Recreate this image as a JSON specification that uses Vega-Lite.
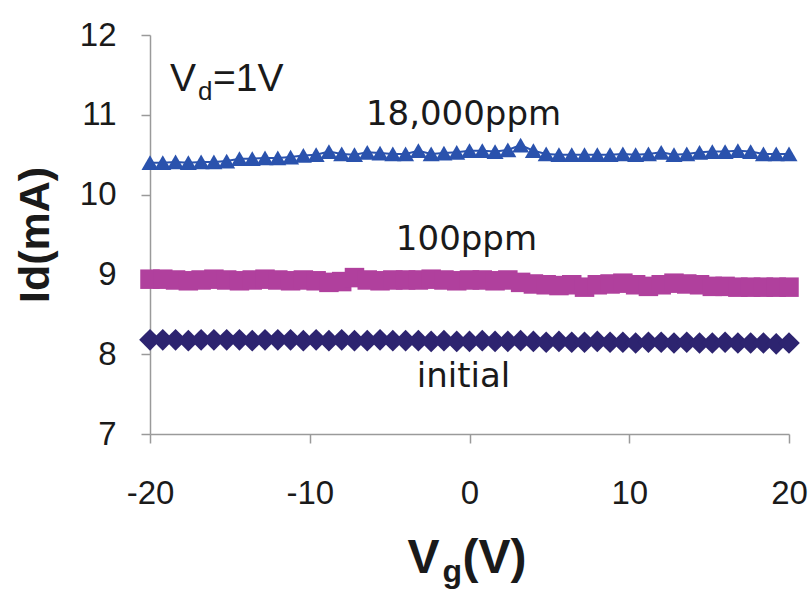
{
  "$schema": "https://vega.github.io/schema/vega-lite/v6.json",
  "width": 639,
  "height": 399,
  "autosize": {"type": "none"},
  "padding": {"left": 150, "top": 35, "right": 23, "bottom": 155},
  "background": "#ffffff",
  "config": {
    "view": {"stroke": null},
    "axis": {
      "grid": false,
      "domainColor": "#9a9a9a",
      "domainWidth": 1.5,
      "tickColor": "#9a9a9a",
      "tickWidth": 1.5,
      "tickSize": 9,
      "labelFont": "Liberation Sans",
      "labelFontSize": 33,
      "labelColor": "#1a1a1a"
    }
  },
  "datasets": {
    "curves": [
      {"Vg": -20, "s18000": 10.40, "s100": 8.94, "initial": 8.18},
      {"Vg": -19.2, "s18000": 10.40, "s100": 8.94, "initial": 8.18},
      {"Vg": -18.4, "s18000": 10.41, "s100": 8.93, "initial": 8.18},
      {"Vg": -17.6, "s18000": 10.40, "s100": 8.92, "initial": 8.17},
      {"Vg": -16.8, "s18000": 10.41, "s100": 8.93, "initial": 8.18},
      {"Vg": -16, "s18000": 10.41, "s100": 8.94, "initial": 8.18},
      {"Vg": -15.2, "s18000": 10.42, "s100": 8.93, "initial": 8.18},
      {"Vg": -14.4, "s18000": 10.45, "s100": 8.92, "initial": 8.18},
      {"Vg": -13.6, "s18000": 10.45, "s100": 8.93, "initial": 8.17},
      {"Vg": -12.8, "s18000": 10.46, "s100": 8.94, "initial": 8.18},
      {"Vg": -12, "s18000": 10.46, "s100": 8.93, "initial": 8.18},
      {"Vg": -11.2, "s18000": 10.47, "s100": 8.92, "initial": 8.18},
      {"Vg": -10.4, "s18000": 10.49, "s100": 8.93, "initial": 8.17},
      {"Vg": -9.6, "s18000": 10.50, "s100": 8.92, "initial": 8.18},
      {"Vg": -8.8, "s18000": 10.54, "s100": 8.90, "initial": 8.17},
      {"Vg": -8, "s18000": 10.51, "s100": 8.91, "initial": 8.18},
      {"Vg": -7.2, "s18000": 10.50, "s100": 8.96, "initial": 8.17},
      {"Vg": -6.4, "s18000": 10.53, "s100": 8.93, "initial": 8.17},
      {"Vg": -5.6, "s18000": 10.52, "s100": 8.92, "initial": 8.18},
      {"Vg": -4.8, "s18000": 10.51, "s100": 8.93, "initial": 8.17},
      {"Vg": -4, "s18000": 10.51, "s100": 8.93, "initial": 8.17},
      {"Vg": -3.2, "s18000": 10.55, "s100": 8.93, "initial": 8.17},
      {"Vg": -2.4, "s18000": 10.51, "s100": 8.94, "initial": 8.16},
      {"Vg": -1.6, "s18000": 10.52, "s100": 8.93, "initial": 8.17},
      {"Vg": -0.8, "s18000": 10.53, "s100": 8.92, "initial": 8.16},
      {"Vg": 0, "s18000": 10.55, "s100": 8.93, "initial": 8.16},
      {"Vg": 0.8, "s18000": 10.55, "s100": 8.93, "initial": 8.17},
      {"Vg": 1.6, "s18000": 10.54, "s100": 8.92, "initial": 8.16},
      {"Vg": 2.4, "s18000": 10.56, "s100": 8.93, "initial": 8.16},
      {"Vg": 3.2, "s18000": 10.62, "s100": 8.90, "initial": 8.17},
      {"Vg": 4, "s18000": 10.55, "s100": 8.88, "initial": 8.16},
      {"Vg": 4.8, "s18000": 10.51, "s100": 8.87, "initial": 8.15},
      {"Vg": 5.6, "s18000": 10.50, "s100": 8.86, "initial": 8.16},
      {"Vg": 6.4, "s18000": 10.50, "s100": 8.87, "initial": 8.15},
      {"Vg": 7.2, "s18000": 10.50, "s100": 8.84, "initial": 8.15},
      {"Vg": 8, "s18000": 10.50, "s100": 8.87, "initial": 8.16},
      {"Vg": 8.8, "s18000": 10.50, "s100": 8.88, "initial": 8.15},
      {"Vg": 9.6, "s18000": 10.51, "s100": 8.89, "initial": 8.15},
      {"Vg": 10.4, "s18000": 10.50, "s100": 8.87, "initial": 8.14},
      {"Vg": 11.2, "s18000": 10.51, "s100": 8.85, "initial": 8.15},
      {"Vg": 12, "s18000": 10.53, "s100": 8.87, "initial": 8.15},
      {"Vg": 12.8, "s18000": 10.50, "s100": 8.89, "initial": 8.14},
      {"Vg": 13.6, "s18000": 10.51, "s100": 8.88, "initial": 8.15},
      {"Vg": 14.4, "s18000": 10.53, "s100": 8.87, "initial": 8.14},
      {"Vg": 15.2, "s18000": 10.54, "s100": 8.85, "initial": 8.14},
      {"Vg": 16, "s18000": 10.54, "s100": 8.85, "initial": 8.15},
      {"Vg": 16.8, "s18000": 10.55, "s100": 8.84, "initial": 8.14},
      {"Vg": 17.6, "s18000": 10.54, "s100": 8.84, "initial": 8.14},
      {"Vg": 18.4, "s18000": 10.51, "s100": 8.84, "initial": 8.14},
      {"Vg": 19.2, "s18000": 10.51, "s100": 8.84, "initial": 8.13},
      {"Vg": 20, "s18000": 10.51, "s100": 8.84, "initial": 8.14}
    ],
    "labels": [
      {"Vg": -0.375, "Id": 10.872, "text": "18,000ppm"},
      {"Vg": -0.19, "Id": 9.306, "text": "100ppm"},
      {"Vg": -0.375, "Id": 7.589, "text": "initial"}
    ],
    "vdMain": [
      {"Vg": -18.75, "Id": 11.30, "text": "V"},
      {"Vg": -16.06, "Id": 11.30, "text": "=1V"}
    ],
    "vdSub": [
      {"Vg": -17.0, "Id": 11.185, "text": "d"}
    ],
    "xTitleMain": [
      {"Vg": -3.875, "Id": 5.26, "text": "V"},
      {"Vg": -0.44, "Id": 5.26, "text": "(V)"}
    ],
    "xTitleSub": [
      {"Vg": -1.69, "Id": 5.145, "text": "g"}
    ]
  },
  "layer": [
    {
      "data": {"name": "curves"},
      "transform": [{"fold": ["s18000", "s100", "initial"], "as": ["series", "Id"]}],
      "mark": {"type": "line", "strokeWidth": 2},
      "encoding": {
        "x": {"field": "Vg", "type": "quantitative",
              "scale": {"domain": [-20, 20], "nice": false, "zero": false},
              "axis": {"values": [-20, -10, 0, 10, 20], "title": null, "labelPadding": 34, "labelFlush": false,
                       "labelExpr": "replace(format(datum.value, 'd'), '\u2212', '-')"}},
        "y": {"field": "Id", "type": "quantitative",
              "scale": {"domain": [7, 12], "nice": false, "zero": false},
              "axis": {"values": [7, 8, 9, 10, 11, 12], "title": "Id(mA)", "labelPadding": 25,
                       "labelExpr": "format(datum.value, 'd')",
                       "titleFont": "Liberation Sans", "titleFontWeight": "bold", "titleFontSize": 43,
                       "titleColor": "#1a1a1a", "titlePadding": 22}},
        "color": {"field": "series", "type": "nominal",
                  "scale": {"domain": ["s18000", "s100", "initial"], "range": ["#2a52ad", "#b0409d", "#2d2470"]},
                  "legend": null}
      }
    },
    {
      "data": {"name": "curves"},
      "transform": [{"fold": ["s18000", "s100", "initial"], "as": ["series", "Id"]}],
      "mark": {"type": "point", "filled": true, "opacity": 1},
      "encoding": {
        "x": {"field": "Vg", "type": "quantitative"},
        "y": {"field": "Id", "type": "quantitative"},
        "color": {"field": "series", "type": "nominal", "legend": null},
        "shape": {"field": "series", "type": "nominal",
                  "scale": {"domain": ["s18000", "s100", "initial"], "range": ["triangle-up", "square", "diamond"]},
                  "legend": null},
        "size": {"field": "series", "type": "nominal",
                 "scale": {"domain": ["s18000", "s100", "initial"], "range": [290, 470, 420]},
                 "legend": null}
      }
    },
    {
      "data": {"name": "labels"},
      "mark": {"type": "text", "font": "DejaVu Sans", "fontSize": 34, "align": "center", "baseline": "alphabetic", "color": "#1a1a1a"},
      "encoding": {
        "x": {"field": "Vg", "type": "quantitative"},
        "y": {"field": "Id", "type": "quantitative"},
        "text": {"field": "text"}
      }
    },
    {
      "data": {"name": "vdMain"},
      "mark": {"type": "text", "font": "Liberation Sans", "fontSize": 39, "align": "left", "baseline": "alphabetic", "color": "#1a1a1a"},
      "encoding": {
        "x": {"field": "Vg", "type": "quantitative"},
        "y": {"field": "Id", "type": "quantitative"},
        "text": {"field": "text"}
      }
    },
    {
      "data": {"name": "vdSub"},
      "mark": {"type": "text", "font": "Liberation Sans", "fontSize": 26, "align": "left", "baseline": "alphabetic", "color": "#1a1a1a"},
      "encoding": {
        "x": {"field": "Vg", "type": "quantitative"},
        "y": {"field": "Id", "type": "quantitative"},
        "text": {"field": "text"}
      }
    },
    {
      "data": {"name": "xTitleMain"},
      "mark": {"type": "text", "font": "Liberation Sans", "fontWeight": "bold", "fontSize": 48, "align": "left", "baseline": "alphabetic", "color": "#1a1a1a"},
      "encoding": {
        "x": {"field": "Vg", "type": "quantitative"},
        "y": {"field": "Id", "type": "quantitative"},
        "text": {"field": "text"}
      }
    },
    {
      "data": {"name": "xTitleSub"},
      "mark": {"type": "text", "font": "Liberation Sans", "fontWeight": "bold", "fontSize": 32, "align": "left", "baseline": "alphabetic", "color": "#1a1a1a"},
      "encoding": {
        "x": {"field": "Vg", "type": "quantitative"},
        "y": {"field": "Id", "type": "quantitative"},
        "text": {"field": "text"}
      }
    }
  ]
}
